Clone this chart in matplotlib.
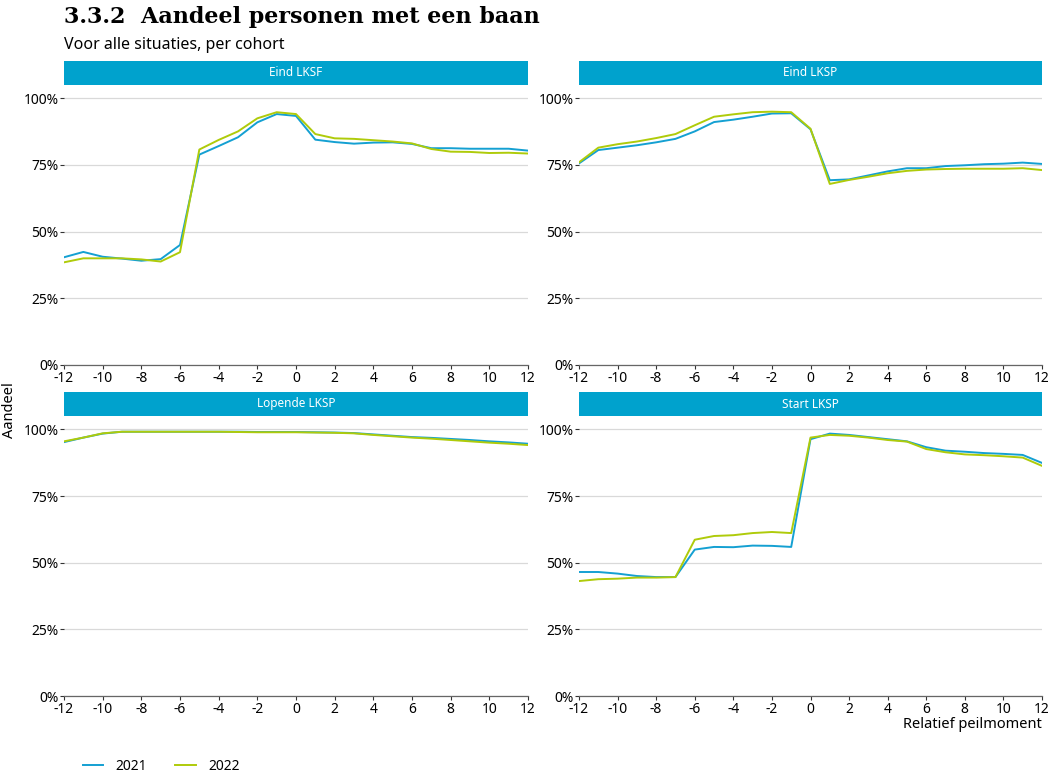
import matplotlib.pyplot as plt
from matplotlib.patches import Rectangle
from matplotlib.lines import Line2D
from matplotlib.ticker import FuncFormatter

# Relatief peilmoment
x = list(range(-12, 13))

panels = ["Eind LKSF", "Eind LKSP", "Lopende LKSP", "Start LKSP"]

eind_lksf_2021 = [40.4, 42.4, 40.6, 39.9, 39.1, 39.7, 45.0, 78.9, 82.1, 85.4, 91.0, 94.1, 93.4,
                  84.5, 83.6, 83.0, 83.4, 83.5, 82.9, 81.3, 81.3, 81.1, 81.1, 81.1, 80.4]
eind_lksf_2022 = [38.5, 40.0, 40.0, 40.0, 39.6, 38.8, 42.3, 80.8, 84.4, 87.6, 92.5, 94.8, 94.1,
                  86.6, 85.0, 84.8, 84.3, 83.8, 83.1, 81.0, 80.0, 79.9, 79.5, 79.6, 79.3]

eind_lksp_2021 = [75.6, 80.6, 81.5, 82.4, 83.5, 84.8, 87.6, 91.1, 92.0, 93.1, 94.3, 94.4, 88.4,
                  69.3, 69.6, 71.1, 72.6, 73.8, 73.8, 74.6, 74.9, 75.3, 75.5, 75.9, 75.4]
eind_lksp_2022 = [76.0, 81.5, 82.8, 83.8, 85.1, 86.6, 89.9, 93.1, 94.0, 94.8, 95.0, 94.8, 88.6,
                  67.9, 69.4, 70.6, 71.9, 72.8, 73.3, 73.5, 73.6, 73.6, 73.6, 73.8, 73.1]

lopende_lksp_2021 = [95.2, 96.9, 98.4, 99.1, 99.1, 99.1, 99.1, 99.1, 99.1, 99.1, 99.0, 99.0, 99.0,
                     98.9, 98.8, 98.6, 98.1, 97.6, 97.1, 96.8, 96.4, 96.0, 95.5, 95.1, 94.6]
lopende_lksp_2022 = [95.5, 96.9, 98.5, 99.1, 99.1, 99.1, 99.1, 99.1, 99.1, 99.0, 98.9, 98.9, 98.9,
                     98.8, 98.7, 98.5, 97.9, 97.4, 96.9, 96.5, 96.0, 95.5, 95.0, 94.6, 94.1]

start_lksp_2021 = [46.5, 46.5, 45.9, 45.0, 44.6, 44.6, 54.9, 55.9, 55.8, 56.4, 56.3, 55.9, 96.3,
                   98.4, 97.9, 97.1, 96.3, 95.5, 93.3, 92.0, 91.6, 91.1, 90.8, 90.4, 87.4]
start_lksp_2022 = [43.1, 43.8, 44.0, 44.4, 44.4, 44.6, 58.6, 60.0, 60.3, 61.1, 61.5, 61.1, 96.9,
                   97.9, 97.6, 96.9, 96.0, 95.4, 92.6, 91.4, 90.6, 90.3, 89.9, 89.4, 86.3]

series_2021 = [eind_lksf_2021, eind_lksp_2021, lopende_lksp_2021, start_lksp_2021]
series_2022 = [eind_lksf_2022, eind_lksp_2022, lopende_lksp_2022, start_lksp_2022]

years = ["2021", "2022"]
colors = ["#14A0D2", "#AFCB0A"]
strip_color = "#00A2CD"

plt.rcParams['font.family'] = ['Noto Sans', 'DejaVu Sans']
plt.rcParams['axes.unicode_minus'] = False

W, H = 1057, 781
fig = plt.figure(figsize=(W / 100, H / 100), dpi=100)

# panel boxes in pixels: left, right, top(strip bottom), bottom
boxes = [(64, 528, 85, 365), (579, 1042, 85, 365),
         (64, 528, 416, 696), (579, 1042, 416, 696)]
strip_h = 24

pct = FuncFormatter(lambda v, pos: f"{int(v)}%")

for i, name in enumerate(panels):
    l, r, t, b = boxes[i]
    ax = fig.add_axes([l / W, 1 - b / H, (r - l) / W, (b - t) / H])
    ax.plot(x, series_2021[i], color=colors[0], lw=1.4)
    ax.plot(x, series_2022[i], color=colors[1], lw=1.4)
    ax.set_xlim(-12, 12)
    ax.set_ylim(0, 105)
    ax.set_yticks([0, 25, 50, 75, 100])
    ax.yaxis.set_major_formatter(pct)
    ax.set_xticks(range(-12, 13, 2))
    ax.grid(axis='y', color='#D9D9D9', lw=0.9)
    ax.set_axisbelow(True)
    for s in ['top', 'right', 'left']:
        ax.spines[s].set_visible(False)
    ax.spines['bottom'].set_color('#666666')
    ax.spines['bottom'].set_linewidth(0.9)
    ax.tick_params(axis='both', length=3, width=0.8, color='#333333',
                   labelsize=10, labelcolor='black', pad=1)
    # facet strip
    sh = strip_h / (b - t)
    ax.add_patch(Rectangle((0, 1), 1, sh, transform=ax.transAxes,
                           facecolor=strip_color, edgecolor='none', clip_on=False))
    ax.text(0.5, 1 + sh / 2, name, transform=ax.transAxes, ha='center', va='center',
            color='white', fontsize=8.5)

fig.text(64 / W, 1 - 17 / H, "3.3.2  Aandeel personen met een baan", fontsize=16,
         fontweight='bold', family=['DejaVu Serif'], va='center', ha='left')
fig.text(64 / W, 1 - 45 / H, "Voor alle situaties, per cohort", fontsize=11.5,
         va='center', ha='left')
fig.text(10 / W, 1 - 410 / H, "Aandeel", rotation=90, fontsize=10.5, va='center', ha='center')
fig.text(1042 / W, 1 - 725 / H, "Relatief peilmoment", fontsize=10.5, va='center', ha='right')

handles = [Line2D([], [], color=c, lw=1.4) for c in colors]
fig.legend(handles, years, loc='center left', bbox_to_anchor=(70 / W, 1 - 766 / H),
           ncol=2, frameon=False, fontsize=10, handlelength=1.5, columnspacing=2.0,
           handletextpad=0.9)

fig.savefig("out.png", dpi=100)
